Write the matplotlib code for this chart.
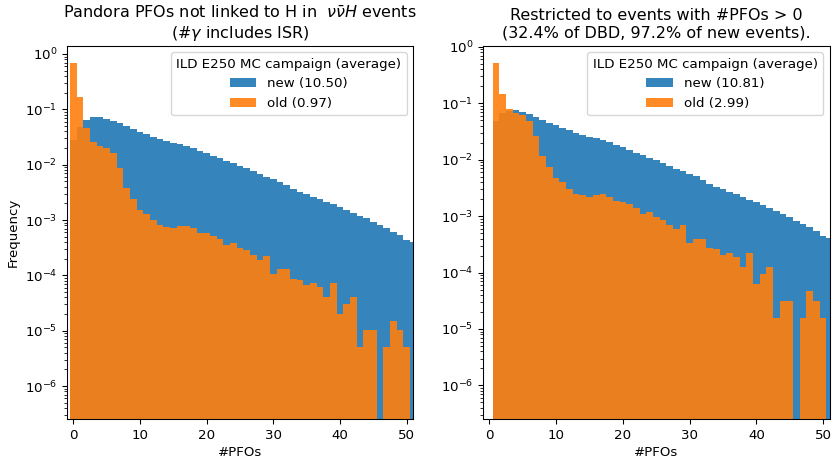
import numpy as np
import matplotlib
matplotlib.use("Agg")
import matplotlib.pyplot as plt

# Number of PFOs per event (bins 0..51)
n_pfos = list(range(52))

# Left panel: all events (frequency per bin)
new_all = [0.028, 0.0472, 0.0641, 0.0716, 0.0736, 0.0678, 0.0615, 0.0557, 0.0499, 0.0435,
           0.0394, 0.0357, 0.0320, 0.0290, 0.0267, 0.0249, 0.0233, 0.0217, 0.0197, 0.0176,
           0.0160, 0.0145, 0.0130, 0.0118, 0.01054, 0.00957, 0.00857, 0.00766, 0.00667, 0.00605,
           0.00542, 0.00492, 0.00428, 0.00363, 0.00324, 0.00294, 0.00264, 0.00236, 0.00214, 0.00191,
           0.00173, 0.00151, 0.00135, 0.00119, 0.00107, 0.00093, 0.00081, 0.000705, 0.000613, 0.000533,
           0.000434, 0.000393]
old_all = [0.676, 0.169, 0.0466, 0.0253, 0.0217, 0.0202, 0.0160, 0.00857, 0.00372, 0.00236,
           0.00151, 0.00128, 0.000995, 0.000809, 0.000755, 0.000705, 0.000767, 0.000794, 0.000708, 0.000589,
           0.000575, 0.000525, 0.000457, 0.000355, 0.000380, 0.000309, 0.000282, 0.000229, 0.000188, 0.000222,
           0.000108, 0.000128, 0.000128, 8.77e-5, 8.41e-5, 6.65e-5, 7.33e-5, 6.19e-5, 4.08e-5, 7.33e-5,
           2.04e-5, 3.09e-5, 4.08e-5, 5.1e-6, 1.02e-5, 1.02e-5, 0.0, 5.1e-6, 1.53e-5, 1.02e-5,
           5.1e-6, 0.0]

# Right panel: events with #PFOs > 0
new_pos = [0.0, 0.0486, 0.0659, 0.0737, 0.0757, 0.0698, 0.0633, 0.0573, 0.0513, 0.0448,
           0.0405, 0.0367, 0.0329, 0.0298, 0.0275, 0.0256, 0.0240, 0.0223, 0.0203, 0.0181,
           0.0165, 0.0149, 0.0134, 0.0121, 0.01084, 0.00985, 0.00882, 0.00788, 0.00686, 0.00622,
           0.00558, 0.00506, 0.00440, 0.00373, 0.00333, 0.00302, 0.00272, 0.00243, 0.00220, 0.00196,
           0.00178, 0.00155, 0.00139, 0.00122, 0.00110, 0.000957, 0.000833, 0.000725, 0.000631, 0.000548,
           0.000447, 0.000404]
old_pos = [0.0, 0.522, 0.1438, 0.0781, 0.0670, 0.0623, 0.0494, 0.02645, 0.01148, 0.00728,
           0.00466, 0.00395, 0.00307, 0.00250, 0.00233, 0.00218, 0.00237, 0.00245, 0.00219, 0.00182,
           0.00177, 0.00162, 0.00141, 0.00110, 0.00117, 0.000954, 0.000870, 0.000707, 0.000580, 0.000685,
           0.000333, 0.000395, 0.000395, 0.000271, 0.000260, 0.000205, 0.000226, 0.000191, 0.000126, 0.000226,
           6.30e-5, 9.54e-5, 0.000126, 1.57e-5, 3.15e-5, 3.15e-5, 0.0, 1.57e-5, 4.72e-5, 3.15e-5,
           1.57e-5, 0.0]

labels_left = ["new (10.50)", "old (0.97)"]
labels_right = ["new (10.81)", "old (2.99)"]
legend_title = "ILD E250 MC campaign (average)"
title_left = "Pandora PFOs not linked to H in  $\\nu\\bar{\\nu}H$ events\n(#$\\gamma$ includes ISR)"
title_right = "Restricted to events with #PFOs > 0\n(32.4% of DBD, 97.2% of new events)."

edges = np.arange(-0.5, 52.5, 1.0)
centers = np.array(n_pfos, dtype=float)

DPI = 96
fig = plt.figure(figsize=(833 / DPI, 459 / DPI), dpi=DPI)
ax1 = fig.add_axes([0.080, 0.0865, 0.416, 0.814])
ax2 = fig.add_axes([0.5795, 0.0865, 0.4166, 0.814])

panels = [
    (ax1, new_all, old_all, labels_left, title_left, (10**-6.6, 10**0.15)),
    (ax2, new_pos, old_pos, labels_right, title_right, (10**-6.6, 10**0.02)),
]
for ax, new_v, old_v, labs, ttl, ylim in panels:
    ax.hist(centers, bins=edges, weights=new_v, histtype='stepfilled',
            alpha=0.9, color='tab:blue', label=labs[0], log=True)
    ax.hist(centers, bins=edges, weights=old_v, histtype='stepfilled',
            alpha=0.9, color='tab:orange', label=labs[1], log=True)
    ax.set_yscale('log', nonpositive='clip')
    ax.set_xlim(-1, 51)
    ax.set_ylim(*ylim)
    ax.set_xticks([0, 10, 20, 30, 40, 50])
    ax.set_xlabel("#PFOs", labelpad=3)
    ax.set_title(ttl)
    leg = ax.legend(title=legend_title, loc='upper right')

ax1.set_ylabel("Frequency")

fig.savefig("out.png", dpi=DPI)
